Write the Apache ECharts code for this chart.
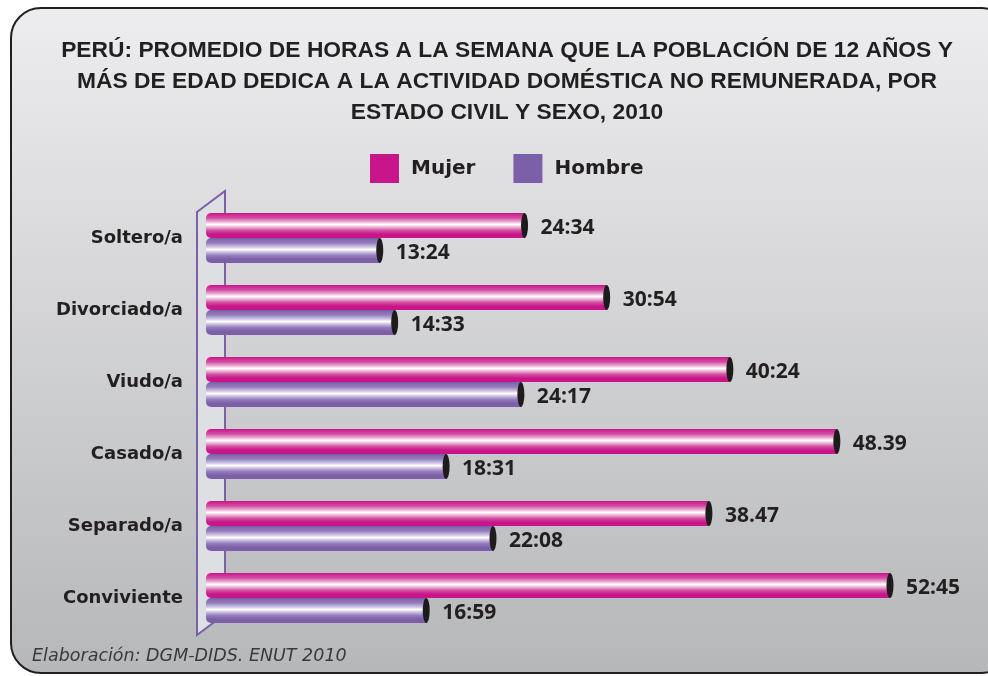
<!DOCTYPE html>
<html>
<head>
<meta charset="utf-8">
<script src="https://cdn.jsdelivr.net/npm/echarts@6/dist/echarts.min.js"></script>
<style>
  html, body { margin: 0; padding: 0; background: #fff; }
  #chart { width: 988px; height: 676px; }
</style>
</head>
<body>
<div id="chart"></div>
<script>
// Estado civil (de arriba hacia abajo)
const categorias = ['Soltero/a', 'Divorciado/a', 'Viudo/a', 'Casado/a', 'Separado/a', 'Conviviente']
// horas decimales (hh:mm -> hh + mm/60)
const mujer = [24.567, 30.9, 40.4, 48.65, 38.783, 52.75]
const hombre = [13.4, 14.55, 24.283, 18.517, 22.133, 16.983]
// etiquetas tal como aparecen en el gráfico
const etiquetasMujer = ['24:34', '30:54', '40:24', '48.39', '38.47', '52:45']
const etiquetasHombre = ['13:24', '14:33', '24:17', '18:31', '22:08', '16:59']

const MAGENTA = '#c8168a'
const MORADO = '#7b5fa8'
const TEXTO = '#231f20'

const GRID_LEFT = 206
const GRID_TOP = 202
const GRID_BOTTOM = 676 - 634
const BAR_W = 25

// gradiente tipo cilindro
const cilindro = (c0, c1, c2) =>
  new echarts.graphic.LinearGradient(0, 0, 0, 1, [
    { offset: 0, color: c0 },
    { offset: 0.2, color: c1 },
    { offset: 0.36, color: c2 },
    { offset: 0.46, color: '#ffffff' },
    { offset: 0.56, color: c2 },
    { offset: 0.7, color: c1 },
    { offset: 0.85, color: c0 },
    { offset: 1, color: c0 }
  ])

const etiquetaValor = (lista) => ({
  show: true,
  position: 'right',
  distance: 16,
  offset: [0, 3],
  formatter: (p) => lista[p.dataIndex],
  fontFamily: 'Open Sans',
  fontWeight: 'bold',
  fontSize: 21,
  color: TEXTO
})

const chart = echarts.init(document.getElementById('chart'))

const option = {
  animation: false,
  title: {
    text: 'PERÚ: PROMEDIO DE HORAS A LA SEMANA QUE LA POBLACIÓN DE 12 AÑOS Y\nMÁS DE EDAD DEDICA A LA ACTIVIDAD DOMÉSTICA NO REMUNERADA, POR\nESTADO CIVIL Y SEXO, 2010',
    left: 502,
    top: 30,
    textAlign: 'center',
    textStyle: {
      fontFamily: 'Liberation Sans',
      fontWeight: 'bold',
      fontSize: 22.8,
      lineHeight: 31,
      color: TEXTO
    }
  },
  legend: {
    left: 365,
    top: 149,
    itemWidth: 29,
    itemHeight: 29,
    itemGap: 38,
    icon: 'rect',
    data: [
      { name: 'Mujer', itemStyle: { color: MAGENTA } },
      { name: 'Hombre', itemStyle: { color: MORADO } }
    ],
    textStyle: {
      fontFamily: 'DejaVu Sans',
      fontWeight: 'bold',
      fontSize: 20,
      color: TEXTO,
      padding: [0, 0, 0, 7]
    }
  },
  grid: {
    left: GRID_LEFT,
    right: 988 - GRID_LEFT - 778,
    top: GRID_TOP,
    bottom: GRID_BOTTOM,
    containLabel: false
  },
  xAxis: {
    type: 'value',
    min: 0,
    max: 60,
    show: false
  },
  yAxis: {
    type: 'category',
    inverse: true,
    data: categorias,
    axisLine: { show: false },
    axisTick: { show: false },
    axisLabel: {
      margin: 23,
      fontFamily: 'DejaVu Sans',
      fontWeight: 'bold',
      fontSize: 18,
      padding: [4, 0, 0, 0],
      color: TEXTO
    }
  },
  series: [
    {
      name: 'Mujer',
      type: 'bar',
      data: mujer,
      barWidth: BAR_W,
      barGap: '0%',
      z: 3,
      itemStyle: {
        color: cilindro(MAGENTA, '#d44ea2', '#eeb6d8'),
        borderRadius: [5, 0, 0, 5]
      },
      label: etiquetaValor(etiquetasMujer)
    },
    {
      name: 'Hombre',
      type: 'bar',
      data: hombre,
      barWidth: BAR_W,
      barGap: '0%',
      z: 3,
      itemStyle: {
        color: cilindro(MORADO, '#957dbd', '#cfc3e3'),
        borderRadius: [5, 0, 0, 5]
      },
      label: etiquetaValor(etiquetasHombre)
    },
    // tapas negras al final de cada barra
    {
      name: 'tapaMujer',
      type: 'pictorialBar',
      data: mujer,
      symbol: 'circle',
      symbolSize: [7, BAR_W],
      symbolPosition: 'end',
      symbolOffset: ['50%', 0],
      barWidth: BAR_W,
      barGap: '0%',
      z: 4,
      itemStyle: { color: '#1e1b1c' }
    },
    {
      name: 'tapaHombre',
      type: 'pictorialBar',
      data: hombre,
      symbol: 'circle',
      symbolSize: [7, BAR_W],
      symbolPosition: 'end',
      symbolOffset: ['50%', 0],
      barWidth: BAR_W,
      barGap: '0%',
      z: 4,
      itemStyle: { color: '#1e1b1c' }
    }
  ]
}

chart.setOption(option)

// fondo, marco, pared lateral y fuente (decoración)
const gTop = GRID_TOP
const gBottom = 676 - GRID_BOTTOM
const x0 = chart.convertToPixel({ xAxisIndex: 0 }, 0)
chart.setOption({
  graphic: [
    {
      type: 'rect',
      z: -10,
      shape: { x: 11, y: 8, width: 1000, height: 665, r: 30 },
      style: {
        fill: new echarts.graphic.LinearGradient(0, 0, 0, 1, [
          { offset: 0, color: '#ededef' },
          { offset: 1, color: '#b6b7b9' }
        ]),
        stroke: '#231f20',
        lineWidth: 2
      }
    },
    {
      type: 'polygon',
      z: 1,
      shape: {
        points: [
          [x0 - 9, gTop + 10],
          [x0 + 19, gTop - 11],
          [x0 + 19, gBottom - 20],
          [x0 - 9, gBottom + 1]
        ]
      },
      style: { fill: '#dedfe2', stroke: MORADO, lineWidth: 2 }
    },
    {
      type: 'text',
      left: 32,
      top: 647,
      style: {
        text: 'Elaboración: DGM-DIDS. ENUT 2010',
        font: 'italic 17.5px "DejaVu Sans"',
        fill: '#3a3a3c'
      }
    }
  ]
})
</script>
</body>
</html>
